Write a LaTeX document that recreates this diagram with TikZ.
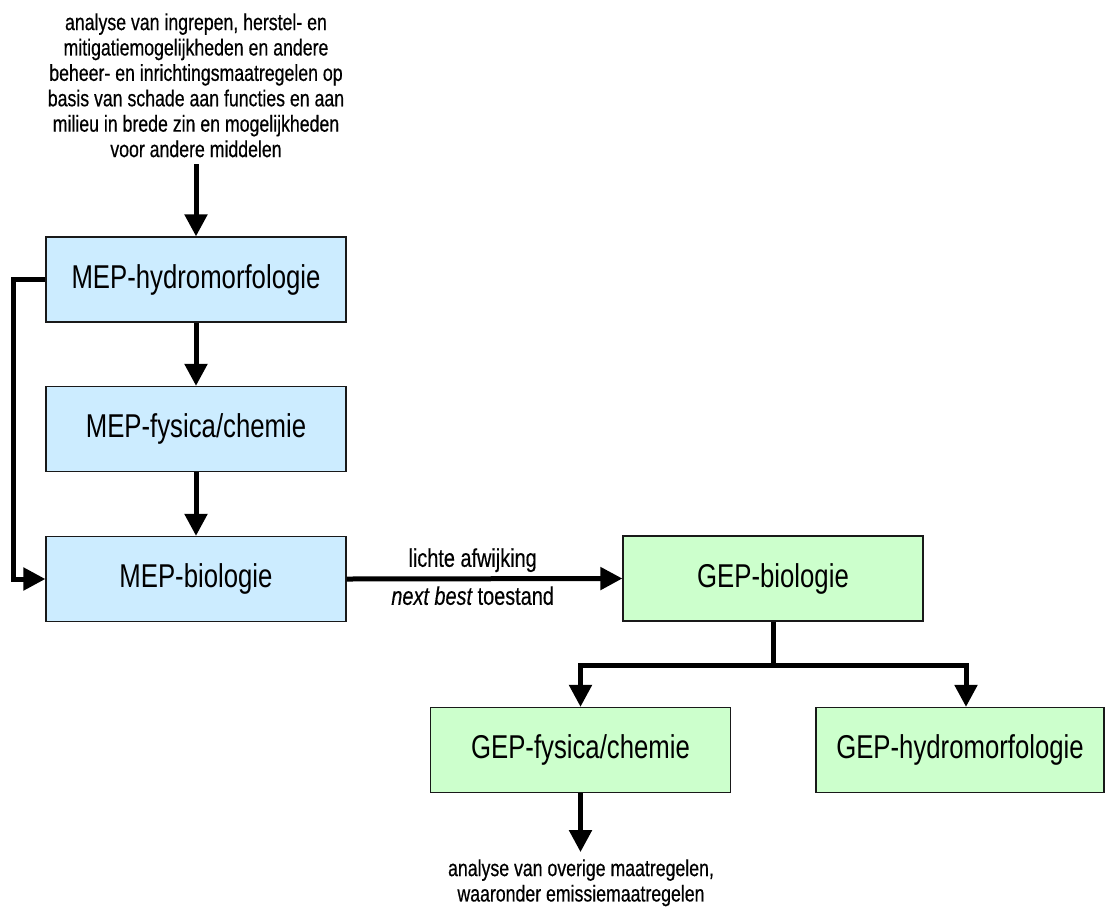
\documentclass[tikz,border=0pt]{standalone}
\usepackage{fontspec}
\setmainfont{Liberation Sans}
\newfontfamily\boxfont[FakeStretch=0.78]{Liberation Sans}
\newfontfamily\notefont[FakeStretch=0.77,FakeBold=0.5]{Liberation Sans}
\newfontfamily\edgefont[FakeStretch=0.78,FakeBold=0.4]{Liberation Sans}
\usetikzlibrary{arrows.meta}
\definecolor{mepblue}{HTML}{CCECFF}
\definecolor{gepgreen}{HTML}{CCFFCC}
\begin{document}
\begin{tikzpicture}[x=1pt,y=1pt,
  box/.style={draw=black!90, line width=1.2pt, minimum width=300pt, minimum height=85pt, inner sep=0pt,
    font=\boxfont\fontsize{33}{37}\selectfont},
  mep/.style={box, fill=mepblue},
  gep/.style={box, fill=gepgreen},
  conn/.style={line width=5pt, line join=miter},
  arr/.style={conn, -{Triangle[length=22pt,width=22pt]}},
  lbl/.style={inner sep=0pt, font=\edgefont\fontsize{25.5}{28}\selectfont},
  note/.style={inner sep=0pt, align=center, font=\notefont\fontsize{23}{25.4}\selectfont}]
\useasboundingbox (0,0) rectangle (1105,-911);

\node[note, anchor=north] (top) at (196,-13.2)
  {analyse van ingrepen, herstel- en\\ mitigatiemogelijkheden en andere\\ beheer- en inrichtingsmaatregelen op\\ basis van schade aan functies en aan\\ milieu in brede zin en mogelijkheden\\ voor andere middelen};

\node[mep] (hydroM) at (196,-279.5) {MEP-hydromorfologie};
\node[mep] (fysM) at (196,-429) {MEP-fysica/chemie};
\node[mep] (bioM) at (196,-579) {MEP-biologie};
\node[gep] (bioG) at (773,-578.5) {GEP-biologie};
\node[gep] (fysG) at (580.5,-750) {GEP-fysica/chemie};
\node[gep, minimum width=288pt] (hydroG) at (960,-750) {GEP-hydromorfologie};

\node[note, anchor=north] (bottom) at (581,-859.2)
  {analyse van overige maatregelen,\\ waaronder emissiemaatregelen};

\coordinate (topin) at ([yshift=-7pt]top.south);
\draw[arr] (topin) -- (hydroM.north);
\draw[arr] (hydroM.south) -- (fysM.north);
\draw[arr] (fysM.south) -- (bioM.north);
\draw[arr] (hydroM.west) -- ++(-32,0) |- (bioM.west);

\draw[arr] (bioM.east) -- (bioG.west)
  node[lbl, pos=0.457, anchor=base, yshift=12pt] (l1) {lichte afwijking}
  node[lbl, pos=0.457, anchor=base, yshift=-26pt] (l2) {\itshape next best\upshape{} toestand};

\coordinate (br) at (773,-665);
\draw[conn] (bioG.south) -- (br);
\draw[arr] (br) -| (fysG.north);
\draw[arr] (br) -| ([xshift=6pt]hydroG.north);

\draw[arr] (fysG.south) -- ++(0,-59);
\end{tikzpicture}
\end{document}
